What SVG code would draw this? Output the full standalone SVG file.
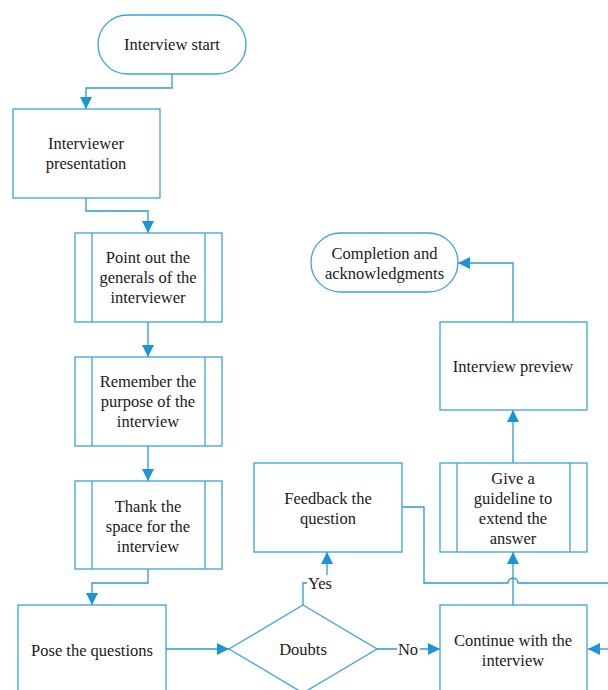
<svg xmlns="http://www.w3.org/2000/svg" width="608" height="690" viewBox="0 0 608 690">
<defs>
<style>
.box{fill:#fff;stroke:#3ca3dc;stroke-width:1.3}
.ln{fill:none;stroke:#3ca3dc;stroke-width:1.3}
.cn{fill:none;stroke:#2a9ad8;stroke-width:1.3}
.lbl{fill:#fff;stroke:none}
</style>
<marker id="ah" viewBox="0 0 12 12" refX="12" refY="6" markerWidth="12" markerHeight="12" markerUnits="userSpaceOnUse" orient="auto">
<path d="M0,0 L12,6 L0,12 z" fill="#1a95d8"/>
</marker>
</defs>
<rect width="608" height="690" fill="#fff"/>
<g font-family="Liberation Serif, Tinos, Noto Serif, DejaVu Serif, serif" font-size="16.5" fill="#1a1a1a" text-anchor="middle" dominant-baseline="central">
<g id="connectors">
<path class="cn" d="M172,74 V88 H86 V109" marker-end="url(#ah)"/>
<path class="cn" d="M86,198 V211 H148 V233" marker-end="url(#ah)"/>
<path class="cn" d="M148,322 V357" marker-end="url(#ah)"/>
<path class="cn" d="M148,446 V481" marker-end="url(#ah)"/>
<path class="cn" d="M148,569 V583 H92 V605" marker-end="url(#ah)"/>
<path class="cn" d="M166,649 H229" marker-end="url(#ah)"/>
<path class="cn" d="M303,605 V583 H327 V552" marker-end="url(#ah)"/>
<path class="cn" d="M377,649 H440" marker-end="url(#ah)"/>
<path class="cn" d="M513,605 V552" marker-end="url(#ah)"/>
<path class="cn" d="M513,463 V410" marker-end="url(#ah)"/>
<path class="cn" d="M513,322 V263 H458" marker-end="url(#ah)"/>
<path class="cn" d="M402,507 H424 V583 H508 A5,5 0 0 1 518,583 H610"/>
<path class="cn" d="M610,649 H588" marker-end="url(#ah)"/>
<rect class="lbl" x="307" y="575" width="26" height="17"/>
<text x="320" y="583">Yes</text>
<rect class="lbl" x="397" y="641" width="23" height="17"/>
<text x="408" y="649">No</text>
</g>

<g id="start">
<rect class="box" x="98" y="15" width="148" height="59" rx="29.5"/>
<text x="172" y="44">Interview start</text>
</g>

<g id="presentation">
<rect class="box" x="13" y="109" width="147" height="89"/>
<text x="86" y="143">Interviewer</text>
<text x="86" y="163">presentation</text>
</g>

<g id="generals">
<rect class="box" x="75" y="233" width="147" height="89"/>
<line class="ln" x1="92" y1="233" x2="92" y2="322"/>
<line class="ln" x1="205" y1="233" x2="205" y2="322"/>
<text x="148" y="257">Point out the</text>
<text x="148" y="277">generals of the</text>
<text x="148" y="297">interviewer</text>
</g>

<g id="purpose">
<rect class="box" x="75" y="357" width="147" height="89"/>
<line class="ln" x1="92" y1="357" x2="92" y2="446"/>
<line class="ln" x1="205" y1="357" x2="205" y2="446"/>
<text x="148" y="381">Remember the</text>
<text x="148" y="401">purpose of the</text>
<text x="148" y="421">interview</text>
</g>

<g id="thank">
<rect class="box" x="75" y="481" width="147" height="88"/>
<line class="ln" x1="92" y1="481" x2="92" y2="569"/>
<line class="ln" x1="205" y1="481" x2="205" y2="569"/>
<text x="148" y="506">Thank the</text>
<text x="148" y="526">space for the</text>
<text x="148" y="546">interview</text>
</g>

<g id="pose">
<rect class="box" x="18" y="605" width="148" height="89"/>
<text x="92" y="650">Pose the questions</text>
</g>

<g id="doubts">
<polygon class="box" points="229,649 303,605 377,649 303,693"/>
<text x="303" y="649">Doubts</text>
</g>

<g id="feedback">
<rect class="box" x="254" y="463" width="148" height="89"/>
<text x="328" y="498">Feedback the</text>
<text x="328" y="518">question</text>
</g>

<g id="continue">
<rect class="box" x="440" y="605" width="147" height="89"/>
<text x="513" y="640">Continue with the</text>
<text x="513" y="660">interview</text>
</g>

<g id="guideline">
<rect class="box" x="440" y="463" width="147" height="89"/>
<line class="ln" x1="457" y1="463" x2="457" y2="552"/>
<line class="ln" x1="570" y1="463" x2="570" y2="552"/>
<text x="513" y="478">Give a</text>
<text x="513" y="498">guideline to</text>
<text x="513" y="518">extend the</text>
<text x="513" y="538">answer</text>
</g>

<g id="preview">
<rect class="box" x="440" y="322" width="147" height="88"/>
<text x="513" y="366">Interview preview</text>
</g>

<g id="completion">
<rect class="box" x="311" y="233" width="147" height="59" rx="29.5"/>
<text x="384.5" y="253">Completion and</text>
<text x="384.5" y="273">acknowledgments</text>
</g>
</g>
</svg>
